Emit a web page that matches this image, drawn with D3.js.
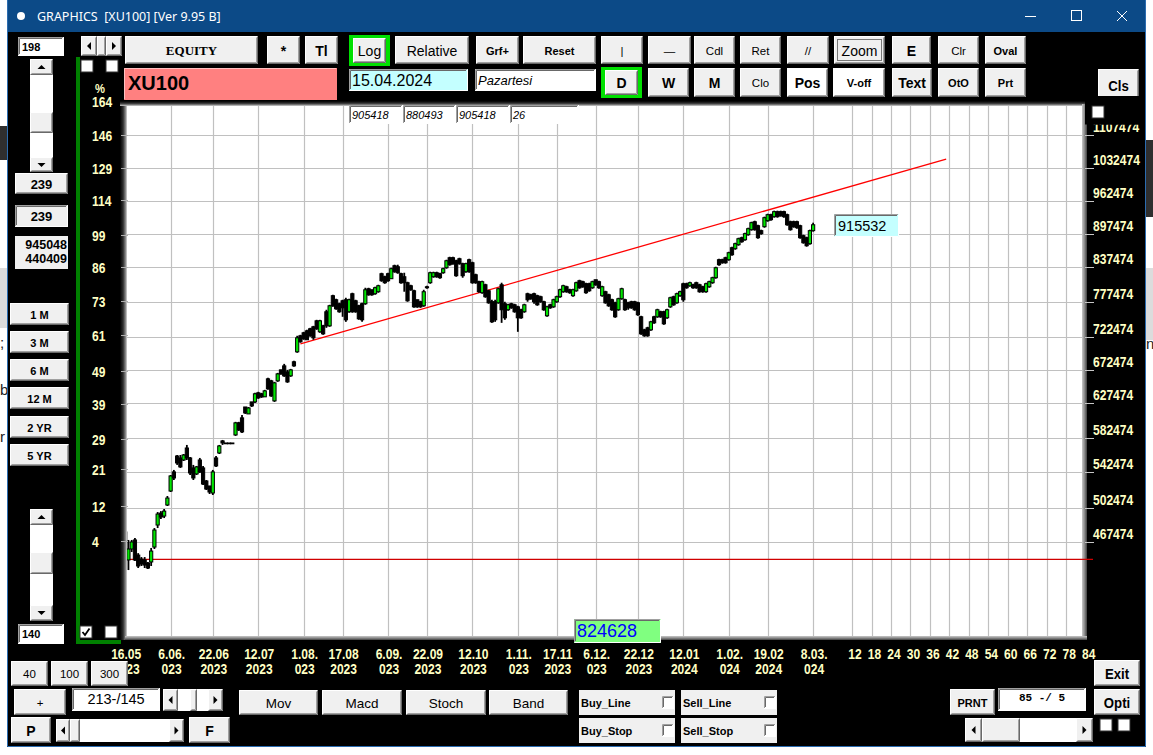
<!DOCTYPE html>
<html lang="en">
<head>
<meta charset="utf-8">
<title>GRAPHICS [XU100]</title>
<script src="https://cdn.jsdelivr.net/npm/d3@7"></script>
<style>
  html, body { margin: 0; padding: 0; background: #fff; overflow: hidden; }
  svg { display: block; }
</style>
</head>
<body>
<script>
// daily bars, XU100 index points (213 bars, 16.05.2023 ->)
var opens = [
  4775,4500,4606,4695,4547,4509,4500,4471,4481,4625, 4846,4970,4939,5056,5208,5423,5609,5586,5562,5705,
  5586,5469,5400,5562,5469,5320,5264,5186,5586,5645, 5791,5766,5766,5766,5865,6017,6081,6223,6132,6290,
  6290,6412,6399,6358,6605,6577,6304,6577,6732,6789, 6703,6647,6848,6994,7236,7282,7312,7344,7375,7469,
  7297,7390,7614,7390,7877,7810,7744,7793,7810,7614, 7910,7793,7711,7744,7744,7994,7977,7910,7944,8253,
  8200,8253,8166,8394,8376,8253,8200,8097,8045,7960, 7810,7777,7711,8028,8097,8200,8270,8253,8270,8358,
  8537,8537,8483,8519,8430,8288,8501,8447,8235,8114, 7927,8062,7960,7777,7777,7760,8062,7744,7646,7744,
  7727,7694,7646,7614,7910,7893,7910,7877,7860,7777, 7549,7727,7694,7777,7860,7944,8028,7977,7877,7960,
  8131,8114,8079,8079,8011,8148,8114,7877,7944,7893, 7810,7760,7646,7827,7810,7760,7777,7777,7760,7533,
  7328,7359,7328,7533,7533,7614,7614,7517,7694,7860, 7760,7877,8079,8079,8045,8062,8097,8062,8028,7944,
  8028,8097,8183,8501,8501,8537,8501,8720,8702,8776, 8907,8869,8964,9060,9214,9136,9041,9117,9234,9352,
  9313,9412,9412,9412,9352,9214,9214,9214,9136,8945, 8907,8795,9041
];
var highs = [
  4815,4695,4695,4715,4566,4528,4528,4481,4616,4815, 4981,4991,5013,5153,5388,5446,5621,5621,5633,5742,
  5597,5504,5492,5586,5492,5331,5264,5446,5609,5742, 5803,5766,5766,5766,6030,6030,6119,6223,6223,6290,
  6412,6426,6412,6453,6619,6591,6563,6689,6732,6818, 6732,6746,6862,7236,7251,7297,7328,7359,7390,7485,
  7485,7406,7646,7727,7893,7827,7760,7810,7843,7827, 7927,7810,7727,7760,8011,8011,7977,8028,8062,8270,
  8218,8270,8358,8412,8412,8270,8270,8114,8062,7977, 7810,7793,7977,8045,8288,8288,8288,8270,8358,8501,
  8555,8555,8501,8537,8447,8447,8519,8465,8253,8131, 8131,8079,7977,7810,7810,8011,8097,7777,7744,7760,
  7744,7711,7662,7744,7927,7910,7927,7893,7877,7793, 7711,7744,7827,7877,7994,8062,8045,7994,7994,8114,
  8148,8131,8097,8097,8131,8148,8131,8045,7960,7910, 7827,7777,7843,8011,7827,7777,7793,7793,7777,7549,
  7344,7375,7469,7549,7662,7630,7630,7662,7860,7877, 7927,7960,8097,8097,8114,8079,8114,8079,8045,8097,
  8131,8200,8376,8519,8519,8555,8646,8739,8813,8907, 8926,9002,9098,9214,9234,9155,9060,9313,9372,9372,
  9432,9432,9432,9432,9372,9234,9234,9234,9155,8964, 8926,9060,9195
];
var lows = [
  4481,4405,4577,4490,4424,4443,4424,4414,4443,4606, 4815,4908,4918,5045,5197,5331,5504,5469,5550,5562,
  5388,5331,5388,5411,5275,5219,5175,5164,5481,5633, 5742,5766,5766,5766,5853,5915,5890,6132,6132,6223,
  6277,6331,6344,6358,6453,6358,6290,6563,6661,6633, 6549,6633,6775,6980,7130,7175,7175,7221,7175,7328,
  7282,7251,7359,7375,7694,7646,7598,7533,7453,7598, 7598,7598,7485,7453,7727,7877,7877,7893,7927,8114,
  8079,8114,8166,8270,8253,8079,7944,7777,7960,7678, 7678,7678,7694,7994,8079,8183,8183,8166,8253,8341,
  8394,8412,8200,8412,8183,8270,8270,8079,8079,7927, 7910,7843,7744,7437,7453,7744,7437,7485,7630,7662,
  7598,7297,7501,7598,7777,7810,7744,7711,7760,7630, 7533,7662,7678,7760,7843,7927,7927,7910,7860,7944,
  7994,8011,7910,7944,7994,8045,7994,7860,7744,7694, 7630,7517,7630,7810,7630,7646,7662,7630,7549,7251,
  7221,7221,7312,7422,7517,7517,7406,7501,7678,7711, 7744,7860,7777,7994,8028,7994,7994,7927,7927,7927,
  8011,8079,8166,8394,8430,8430,8483,8574,8683,8757, 8813,8850,8945,9041,9041,8888,8964,9098,9214,9234,
  9293,9293,9313,9293,9136,9041,9098,9079,8888,8795, 8739,8776,9022
];
var closes = [
  4538,4606,4675,4500,4443,4462,4452,4424,4586,4795, 4960,4929,4991,5131,5377,5354,5527,5481,5621,5586,
  5411,5354,5481,5423,5286,5230,5197,5423,5492,5730, 5766,5766,5766,5766,6017,5928,5903,6145,6210,6237,
  6399,6344,6358,6439,6467,6371,6549,6675,6675,6647, 6563,6732,6789,7205,7145,7190,7175,7236,7205,7344,
  7469,7266,7390,7711,7711,7662,7614,7678,7485,7810, 7614,7614,7501,7485,7977,7893,7893,8011,8045,8131,
  8097,8131,8341,8288,8270,8097,8097,7793,7977,7694, 7694,7694,7944,8011,8270,8270,8200,8183,8341,8483,
  8412,8430,8218,8430,8218,8430,8288,8097,8097,7944, 8114,7860,7760,7453,7485,7994,7646,7517,7727,7678,
  7614,7517,7517,7727,7810,7827,7777,7727,7777,7646, 7694,7678,7810,7860,7977,8045,7944,7927,7977,8097,
  8011,8028,7927,7960,8114,8062,8011,8028,7760,7711, 7646,7533,7827,7994,7646,7678,7678,7646,7565,7266,
  7236,7236,7453,7437,7646,7533,7422,7646,7843,7727, 7910,7944,7810,8011,8097,8011,8011,7944,7944,8079,
  8114,8183,8358,8412,8447,8447,8628,8592,8795,8888, 8832,8983,9079,9195,9060,8907,8983,9293,9352,9254,
  9412,9313,9332,9313,9155,9060,9117,9098,8907,8813, 8757,9041,9155
];

// x axis: bar index of each dated grid line, two text rows per label
var dateIdx = [0, 14, 27, 41, 55, 67, 81, 93, 107, 121, 133, 145, 158, 172, 186, 198, 212];
var dateTop = ["16.05","6.06.","22.06","12.07","1.08.","17.08","6.09.","22.09","12.10","1.11.","17.11","6.12.","22.12","12.01","1.02.","19.02","8.03."];
var dateBot = ["2023","023","2023","2023","023","2023","023","2023","2023","023","2023","023","2023","2024","024","2024","024"];
var futureDays = [12, 18, 24, 30, 36, 42, 48, 54, 60, 66, 72, 78, 84];

// y axes
var priceTicks = [1107474, 1032474, 962474, 897474, 837474, 777474, 722474, 672474, 627474, 582474, 542474, 502474, 467474];
var pctTicks = [164, 146, 129, 114, 99, 86, 73, 61, 49, 39, 29, 21, 12, 4];
var baseLevel = 4505;                       // the 0 % line
var trend = [{ i: 54, v: 7114 }, { i: 253, v: 10523 }];
var lastPrice = "915532", cursorPrice = "824628";
var infoVals = ["905418", "880493", "905418", "26"];

var W = 1153, H = 755;
var svg = d3.select("body").append("svg").attr("width", W).attr("height", H);

// scales
var x = d3.scaleLinear().domain([0, 296]).range([125.2, 1085.7]);
var y = d3.scaleLog().domain([4674.74, 10324.74]).range([542, 168]);

var SANS = "'Liberation Sans',Arial,sans-serif";
var AXF = "bold 14px " + SANS;
var YEL = "#ffffc4";

// ---- helpers ----
function rect(p, x0, y0, w, h, fill) {
  return p.append("rect").attr("x", x0).attr("y", y0).attr("width", w).attr("height", h).attr("fill", fill);
}
function path(p, d, stroke, sw) {
  return p.append("path").attr("d", d).attr("fill", "none").attr("stroke", stroke).attr("stroke-width", sw || 1);
}
function label(p, x0, y0, t, font, color, anchor) {
  return p.append("text").attr("x", x0).attr("y", y0).attr("dominant-baseline", "central")
    .attr("text-anchor", anchor || "middle").style("font", font).attr("fill", color || "#000").text(t);
}
// the app uses a narrow bold face; squeeze the installed one horizontally
function squeeze(sel, k) {
  sel.each(function () {
    var w = this.getComputedTextLength();
    d3.select(this).attr("textLength", w * k).attr("lengthAdjust", "spacingAndGlyphs");
  });
  return sel;
}
function raised(p, x0, y0, w, h, fill) {
  rect(p, x0, y0, w, h, fill || "#f0f0f0");
  path(p, "M" + (x0 + .5) + "," + (y0 + h - 1) + "V" + (y0 + .5) + "H" + (x0 + w - 1), "#fff");
  path(p, "M" + (x0 + .5) + "," + (y0 + h - .5) + "H" + (x0 + w - .5) + "V" + (y0 + .5), "#696969");
  path(p, "M" + (x0 + 1.5) + "," + (y0 + h - 1.5) + "H" + (x0 + w - 1.5) + "V" + (y0 + 1.5), "#a0a0a0");
}
function sunken(p, x0, y0, w, h, fill) {
  rect(p, x0, y0, w, h, fill || "#fff");
  path(p, "M" + (x0 + .5) + "," + (y0 + h - 1) + "V" + (y0 + .5) + "H" + (x0 + w - 1), "#a0a0a0");
  path(p, "M" + (x0 + 1.5) + "," + (y0 + h - 2) + "V" + (y0 + 1.5) + "H" + (x0 + w - 2), "#696969");
  path(p, "M" + (x0 + .5) + "," + (y0 + h - .5) + "H" + (x0 + w - .5) + "V" + (y0 + .5), "#fff");
}
function button(p, x0, y0, w, h, t, font, fill, k) {
  raised(p, x0, y0, w, h, fill);
  var t0 = label(p, x0 + w / 2, y0 + h / 2 + 0.5, t, font);
  if (k) squeeze(t0, k);
}
function checkbox(p, x0, y0, on) {
  rect(p, x0, y0, 12, 12, "#fff").attr("stroke", "#333").attr("stroke-width", 1);
  if (on) path(p, "M" + (x0 + 2.5) + "," + (y0 + 6) + "l2.5,3l4.5,-6.5", "#000", 1.8);
}
function tri(p, cx, cy, dir) {
  var d = { l: "M" + (cx + 2) + "," + (cy - 4) + "L" + (cx - 2) + "," + cy + "L" + (cx + 2) + "," + (cy + 4) + "Z",
            r: "M" + (cx - 2) + "," + (cy - 4) + "L" + (cx + 2) + "," + cy + "L" + (cx - 2) + "," + (cy + 4) + "Z",
            u: "M" + (cx - 4) + "," + (cy + 2) + "L" + cx + "," + (cy - 2) + "L" + (cx + 4) + "," + (cy + 2) + "Z",
            d: "M" + (cx - 4) + "," + (cy - 2) + "L" + cx + "," + (cy + 2) + "L" + (cx + 4) + "," + (cy - 2) + "Z" }[dir];
  p.append("path").attr("d", d).attr("fill", "#000");
}

// ---- desktop behind the window ----
var bg = svg.append("g");
rect(bg, 0, 0, W, H, "#fff");
rect(bg, 0, 126, 8, 34, "#2f2f2f");
rect(bg, 0, 268, 8, 60, "#dcdcdc");
rect(bg, 1145, 140, 8, 77, "#2f2f2f");
rect(bg, 1145, 268, 8, 72, "#dcdcdc");
label(bg, 0, 342, ";", "15px " + SANS, "#222", "start");
label(bg, 0, 389, "b", "15px " + SANS, "#222", "start");
label(bg, 0, 436, "r", "15px " + SANS, "#222", "start");
label(bg, 1146, 343, "n", "15px " + SANS, "#222", "start");

// ---- window ----
var win = svg.append("g");
rect(win, 7, 0, 1139, 747, "#000");
rect(win, 7, 0, 1139, 32, "#0c4a87");
path(win, "M7.5,0V746.5H1145.5V0", "#2b6cb0");
win.append("circle").attr("cx", 21).attr("cy", 16).attr("r", 4).attr("fill", "#fff");
label(win, 37, 16, "GRAPHICS\u00a0\u00a0[XU100] [Ver 9.95 B]", "12.5px 'Noto Sans',sans-serif", "#fff", "start");
path(win, "M1025,16.5H1036", "#fff");
win.append("rect").attr("x", 1071.5).attr("y", 10.5).attr("width", 10).attr("height", 10)
  .attr("fill", "none").attr("stroke", "#fff");
path(win, "M1117,11L1127,21M1127,11L1117,21", "#fff");

// ---- plot frame ----
var defs = svg.append("defs");
function grad(id, x1, y1, x2, y2, stops) {
  var g = defs.append("linearGradient").attr("id", id).attr("x1", x1).attr("y1", y1).attr("x2", x2).attr("y2", y2);
  stops.forEach(function (s) { g.append("stop").attr("offset", s[0]).attr("stop-color", s[1]); });
}
grad("gl", 0, 0, 1, 0, [[0, "#000"], [0.45, "#303030"], [0.8, "#8a8a8a"], [1, "#d8d8d8"]]);
grad("gt", 0, 0, 0, 1, [[0, "#000"], [0.45, "#303030"], [0.8, "#8a8a8a"], [1, "#d8d8d8"]]);
grad("gr", 0, 0, 1, 0, [[0, "#c8c8c8"], [0.5, "#8c8c8c"], [1, "#404040"]]);
grad("gb", 0, 0, 0, 1, [[0, "#c8c8c8"], [0.5, "#8c8c8c"], [1, "#404040"]]);
defs.append("clipPath").attr("id", "plotclip").append("rect")
  .attr("x", 127).attr("y", 106).attr("width", 955).attr("height", 530);
defs.append("clipPath").attr("id", "rclip").append("rect")
  .attr("x", 1084).attr("y", 124.5).attr("width", 62).attr("height", 440);

var frame = svg.append("g");
rect(frame, 127, 106, 955, 530, "#fff");
rect(frame, 120, 101, 7, 539, "url(#gl)");
rect(frame, 120, 101, 966, 5, "url(#gt)");
rect(frame, 1082, 104, 5, 536, "url(#gr)");
rect(frame, 125, 636, 962, 4, "url(#gb)");

// grid
var grid = svg.append("g").attr("clip-path", "url(#plotclip)");
var gridX = dateIdx.concat(futureDays.map(function (d) { return 212 + d; }));
grid.selectAll("line.vx").data(gridX).join("line")
  .attr("x1", function (d) { return Math.round(x(d)) + .5; })
  .attr("x2", function (d) { return Math.round(x(d)) + .5; })
  .attr("y1", 106).attr("y2", 636).attr("stroke", "#c0c0c0").attr("stroke-width", 1.2);
grid.selectAll("line.hy").data(priceTicks).join("line")
  .attr("x1", 127).attr("x2", 1082)
  .attr("y1", function (d) { return Math.round(y(d / 100)) + .5; })
  .attr("y2", function (d) { return Math.round(y(d / 100)) + .5; })
  .attr("stroke", "#c0c0c0").attr("stroke-width", 1.2);

// 0 % line and trend line
svg.append("line").attr("x1", 127).attr("x2", 1093)
  .attr("y1", y(baseLevel)).attr("y2", y(baseLevel)).attr("stroke", "#d00000").attr("stroke-width", 1.2);
svg.append("line")
  .attr("x1", x(trend[0].i)).attr("y1", y(trend[0].v))
  .attr("x2", x(trend[1].i)).attr("y2", y(trend[1].v))
  .attr("stroke", "#ff0000").attr("stroke-width", 1.3);

// candles
var bars = svg.append("g").attr("clip-path", "url(#plotclip)");
var idx = d3.range(closes.length);
bars.selectAll("line.wick").data(idx).join("line")
  .attr("x1", function (i) { return x(i); }).attr("x2", function (i) { return x(i); })
  .attr("y1", function (i) { return y(highs[i]); }).attr("y2", function (i) { return y(lows[i]); })
  .attr("stroke", "#000").attr("stroke-width", 1.8);
bars.selectAll("rect.body").data(idx).join("rect")
  .attr("x", function (i) { return x(i) - 1.6; }).attr("width", 3.2)
  .attr("y", function (i) { return y(Math.max(opens[i], closes[i])); })
  .attr("height", function (i) { return Math.max(0.8, Math.abs(y(opens[i]) - y(closes[i]))); })
  .attr("fill", function (i) { return closes[i] > opens[i] ? "#00e600" : "#000"; })
  .attr("stroke", "#000").attr("stroke-width", 1);

// ---- axes ----
var axR = svg.append("g");
axR.selectAll("line").data(priceTicks).join("line")
  .attr("x1", 1085).attr("x2", 1094)
  .attr("y1", function (d) { return Math.round(y(d / 100)) + .5; })
  .attr("y2", function (d) { return Math.round(y(d / 100)) + .5; })
  .attr("stroke", "#c8c8c8");
squeeze(axR.append("g").attr("clip-path", "url(#rclip)").selectAll("text").data(priceTicks).join("text")
  .attr("x", 1093).attr("y", function (d) { return y(d / 100) - 8; })
  .attr("dominant-baseline", "central").attr("fill", YEL)
  .style("font", AXF).text(function (d) { return d; }), 0.86);

var axL = svg.append("g");
axL.selectAll("line").data(pctTicks.slice(1)).join("line")
  .attr("x1", 121).attr("x2", 128)
  .attr("y1", function (p) { return Math.round(y(baseLevel * (1 + p / 100))) + .5; })
  .attr("y2", function (p) { return Math.round(y(baseLevel * (1 + p / 100))) + .5; })
  .attr("stroke", "#b0b0b0");
squeeze(axL.selectAll("text").data(pctTicks).join("text")
  .attr("x", 92).attr("y", function (p) { return y(baseLevel * (1 + p / 100)) + 1; })
  .attr("dominant-baseline", "central").attr("fill", YEL)
  .style("font", AXF).text(function (p) { return p; }), 0.86);
squeeze(label(svg, 100, 88, "%", "bold 13px " + SANS, YEL), 0.86);

var axB = svg.append("g");
squeeze(axB.selectAll("text.t").data(dateIdx).join("text")
  .attr("x", function (d) { return x(d) + 1; }).attr("y", 654)
  .attr("text-anchor", "middle").attr("dominant-baseline", "central").attr("fill", YEL)
  .style("font", AXF).text(function (d, k) { return dateTop[k]; }), 0.86);
squeeze(axB.selectAll("text.b").data(dateIdx).join("text")
  .attr("x", function (d) { return x(d) + 1; }).attr("y", 669)
  .attr("text-anchor", "middle").attr("dominant-baseline", "central").attr("fill", YEL)
  .style("font", AXF).text(function (d, k) { return dateBot[k]; }), 0.86);
squeeze(axB.selectAll("text.f").data(futureDays).join("text")
  .attr("x", function (d) { return x(212 + d) + 3; }).attr("y", 654)
  .attr("text-anchor", "middle").attr("dominant-baseline", "central").attr("fill", YEL)
  .style("font", AXF).text(function (d) { return d; }), 0.86);

// ---- controls ----
var ui = svg.append("g");
var fSerif = "bold 13px 'Liberation Serif',serif";
var fReg = "14px " + SANS, fBold = "bold 14px " + SANS, fNarrowB = "bold 15px " + SANS;
var fSmall = "11.5px " + SANS, fSmallB = "bold 11px " + SANS, fMid = "13.5px " + SANS;

// top rows
sunken(ui, 18, 37, 46, 19);
label(ui, 22, 46.5, "198", fSmallB, "#000", "start");
raised(ui, 81, 36, 16, 20); tri(ui, 89, 46, "l");
rect(ui, 97, 36, 10, 20, "#fff"); raised(ui, 97, 36, 9, 20);
raised(ui, 106, 36, 16, 20); tri(ui, 114, 46, "r");
checkbox(ui, 81, 60, false); checkbox(ui, 106, 60, false);

button(ui, 125, 36, 133, 28, "EQUITY", fSerif);
button(ui, 267, 36, 33, 28, "*", fBold);
button(ui, 305, 36, 33, 28, "Tl", fBold);
rect(ui, 349, 35, 41, 31, "#00e000");
button(ui, 353, 38, 33, 25, "Log", fReg);
button(ui, 395, 36, 74, 28, "Relative", fReg);
button(ui, 476, 36, 43, 28, "Grf+", fSmallB);
button(ui, 523, 36, 73, 28, "Reset", fSmallB);
button(ui, 601, 36, 42, 28, "|", fSmall);
button(ui, 648, 36, 43, 28, "\u2014", fSmall);
button(ui, 694, 36, 41, 28, "Cdl", fSmall);
button(ui, 740, 36, 41, 28, "Ret", fSmall);
button(ui, 787, 36, 42, 28, "//", fSmall);
button(ui, 834, 36, 51, 28, "Zoom", fReg);
ui.append("rect").attr("x", 837.5).attr("y", 39.5).attr("width", 44).attr("height", 21)
  .attr("fill", "none").attr("stroke", "#000").attr("stroke-dasharray", "1,1");
button(ui, 892, 36, 39, 28, "E", fBold);
button(ui, 938, 36, 41, 28, "Clr", fSmall);
button(ui, 985, 36, 41, 28, "Oval", fSmallB);

rect(ui, 124, 68, 213, 32, "#ff8080");
path(ui, "M124.5,99V68.5H336", "#ffc0c0");
label(ui, 128, 83, "XU100", "bold 20px " + SANS, "#000", "start");
sunken(ui, 349, 69, 119, 22, "#c4ffff");
label(ui, 352, 80, "15.04.2024", "16px " + SANS, "#000", "start");
sunken(ui, 475, 69, 121, 22);
label(ui, 478, 80, "Pazartesi", "italic 13px " + SANS, "#000", "start");
rect(ui, 601, 67, 41, 31, "#00e000");
button(ui, 605, 70, 33, 25, "D", fBold);
button(ui, 648, 68, 41, 29, "W", fBold);
button(ui, 694, 68, 41, 29, "M", fBold);
button(ui, 740, 68, 41, 29, "Clo", fSmall);
button(ui, 787, 68, 41, 29, "Pos", fBold, "#fff");
button(ui, 833, 68, 52, 29, "V-off", fSmallB, "#fff");
button(ui, 892, 68, 40, 29, "Text", fBold);
button(ui, 938, 68, 41, 29, "OtO", fSmallB);
button(ui, 985, 68, 41, 29, "Prt", fSmallB);
button(ui, 1098, 69, 41, 31, "Cls", fNarrowB, null, 0.88);

var infoX = [349, 403, 456, 510], infoW = [54, 53, 54, 69];
infoVals.forEach(function (v, k) {
  sunken(ui, infoX[k], 105, infoW[k], 19);
  label(ui, infoX[k] + 3, 114.5, v, "italic 11px " + SANS, "#000", "start");
});
rect(ui, 1085, 96, 60, 28.5, "#000");
checkbox(ui, 1092, 106, false);

// left column
rect(ui, 30, 59, 23, 113, "#fff");
raised(ui, 30, 59, 23, 16); tri(ui, 41.5, 67, "u");
raised(ui, 30, 112, 23, 21);
raised(ui, 30, 157, 23, 15); tri(ui, 41.5, 165, "d");
button(ui, 15, 173, 53, 21, "239", "bold 13px " + SANS);
sunken(ui, 15, 205, 53, 22, "#f0f0f0");
label(ui, 41.5, 216, "239", "bold 13px " + SANS);
rect(ui, 15, 236, 53, 33, "#f0f0f0");
label(ui, 67, 245, "945048", "bold 12.5px " + SANS, "#000", "end");
label(ui, 67, 259, "440409", "bold 12.5px " + SANS, "#000", "end");
[["1 M", 303], ["3 M", 331], ["6 M", 359], ["12 M", 387], ["2 YR", 416], ["5 YR", 444]].forEach(function (b) {
  button(ui, 10, b[1], 59, 22, b[0], fSmallB);
});
rect(ui, 30, 509, 23, 112, "#fff");
raised(ui, 30, 509, 23, 16); tri(ui, 41.5, 517, "u");
raised(ui, 30, 552, 23, 22);
raised(ui, 30, 605, 23, 16); tri(ui, 41.5, 613, "d");
sunken(ui, 18, 624, 46, 20);
label(ui, 22, 634, "140", fSmallB, "#000", "start");
rect(ui, 76, 57, 4, 587, "#008000");
rect(ui, 76, 640, 45, 4, "#008000");
checkbox(ui, 80, 626, true); checkbox(ui, 105, 626, false);

// value boxes on the plot
sunken(ui, 834, 214, 65, 23, "#c4ffff");
label(ui, 838, 225.5, lastPrice, "14.5px " + SANS, "#000", "start");
sunken(ui, 574, 619, 87, 24, "#80ff80");
label(ui, 577, 631, cursorPrice, "18px " + SANS, "#0000ff", "start");

// bottom rows
button(ui, 11, 661, 37, 25, "40", fSmall);
button(ui, 51, 661, 37, 25, "100", fSmall);
button(ui, 91, 661, 37, 25, "300", fSmall);
button(ui, 14, 689, 52, 26, "+", fSmall);
sunken(ui, 72, 688, 88, 23);
label(ui, 116, 699, "213-/145", "14.5px " + SANS);
rect(ui, 163, 689, 60, 22, "#fff");
raised(ui, 163, 689, 15, 22); tri(ui, 170.5, 700, "l");
raised(ui, 190, 689, 7, 22);
raised(ui, 208, 689, 15, 22); tri(ui, 215.5, 700, "r");
button(ui, 11, 717, 40, 26, "P", fBold);
rect(ui, 56, 719, 128, 23, "#fff");
raised(ui, 56, 719, 14, 23); tri(ui, 63, 730.5, "l");
raised(ui, 70, 719, 10, 23);
raised(ui, 169, 719, 15, 23); tri(ui, 176.5, 730.5, "r");
button(ui, 189, 717, 41, 26, "F", fBold);
button(ui, 239, 690, 79, 25, "Mov", fMid);
button(ui, 322, 690, 80, 25, "Macd", fMid);
button(ui, 406, 690, 80, 25, "Stoch", fMid);
button(ui, 489, 690, 79, 25, "Band", fMid);
[["Buy_Line", 579, 690], ["Sell_Line", 681, 690], ["Buy_Stop", 579, 718], ["Sell_Stop", 681, 718]].forEach(function (b) {
  rect(ui, b[1], b[2], 96, 25, "#f0f0f0");
  label(ui, b[1] + 2, b[2] + 12.5, b[0], fSmallB, "#000", "start");
  sunken(ui, b[1] + 83, b[2] + 6, 12, 13);
});
button(ui, 950, 689, 45, 26, "PRNT", fSmallB);
sunken(ui, 998, 688, 88, 23);
label(ui, 1042, 698, "85 -/ 5", "bold 11px 'Liberation Mono',monospace");
button(ui, 1094, 660, 46, 26, "Exit", fNarrowB, null, 0.88);
button(ui, 1094, 689, 46, 26, "Opti", fNarrowB, null, 0.88);
rect(ui, 965, 718, 128, 24, "#fff");
raised(ui, 965, 718, 17, 24); tri(ui, 973.5, 730, "l");
raised(ui, 982, 718, 38, 24);
raised(ui, 1076, 718, 17, 24); tri(ui, 1084.5, 730, "r");
checkbox(ui, 1100, 719, false); checkbox(ui, 1118, 719, false);
</script>
</body>
</html>
